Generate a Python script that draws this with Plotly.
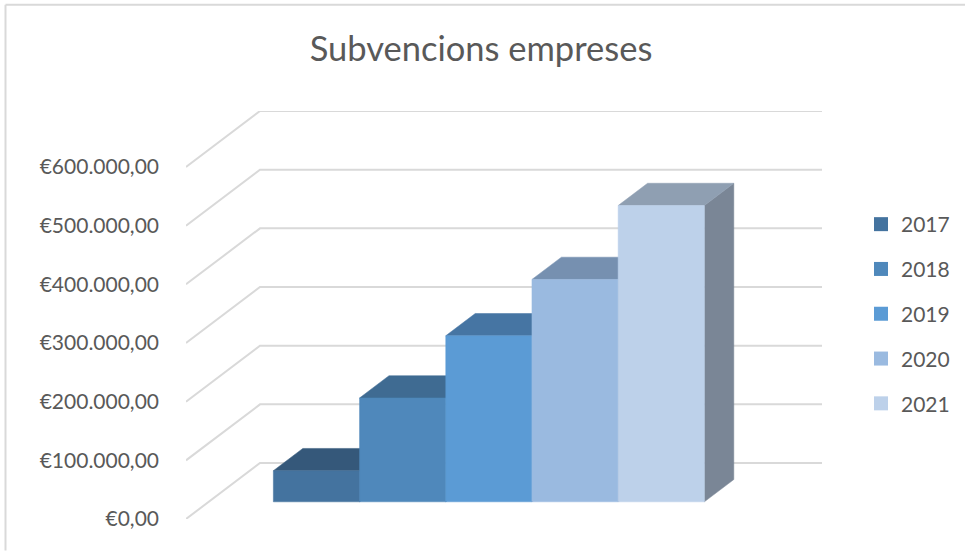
import plotly.graph_objects as go

# ---- data ----
years = ["2017", "2018", "2019", "2020", "2021"]
values = [53000, 177000, 283000, 379000, 505000]
tick_values = [0, 100000, 200000, 300000, 400000, 500000, 600000]
tick_labels = ["€0,00", "€100.000,00", "€200.000,00", "€300.000,00",
               "€400.000,00", "€500.000,00", "€600.000,00"]
title_text = "Subvencions empreses"

front_colors = ["#44739f", "#4f88bb", "#5b9bd5", "#9abae0", "#bdd1ea"]
top_colors = ["#35587a", "#3f6b92", "#4675a3", "#7690b0", "#8f9fb2"]
side_colors = ["#35587a", "#3f6b92", "#4675a3", "#6e7f95", "#7a8696"]
legend_colors = ["#44739f", "#4f88bb", "#5b9bd5", "#9abae0", "#bdd1ea"]

GREY = "#595959"
GRID = "#d9d9d9"

# ---- oblique projection of the 3-D box into the 2-D axes ----
W, H = 965, 551
M_L, M_R, M_T, M_B = 186, 143, 111.3, 31.5
PX_PER_BAR = 86.2
PX_PER_100K = 58.7
DEPTH_DX = 74 / PX_PER_BAR           # bar units for full depth
DEPTH_DY = 56 / PX_PER_100K * 100000  # value units for full depth
GAP_L, GAP_R = 0.75, 0.77
BAR_D0, BAR_D1 = 0.307, 0.705
X_MAX = len(years) + GAP_R
Y_MAX = 600000 + DEPTH_DY


def proj(x, v, d):
    return x + d * DEPTH_DX, v + d * DEPTH_DY


def face(points):
    xs, ys = zip(*[proj(*p) for p in points])
    return list(xs) + [xs[0]], list(ys) + [ys[0]]


fig = go.Figure()

# gridlines: side wall then back wall
for t in tick_values:
    xs, ys = zip(*[proj(-GAP_L, t, 0), proj(-GAP_L, t, 1), proj(X_MAX, t, 1)])
    fig.add_trace(go.Scatter(x=xs, y=ys, mode="lines", showlegend=False, hoverinfo="skip",
                             line=dict(color=GRID, width=2)))

# columns
for i, (yr, v) in enumerate(zip(years, values)):
    x0, x1 = float(i), float(i + 1)
    side = [(x1, 0, BAR_D0), (x1, 0, BAR_D1), (x1, v, BAR_D1), (x1, v, BAR_D0)]
    top = [(x0, v, BAR_D0), (x1, v, BAR_D0), (x1, v, BAR_D1), (x0, v, BAR_D1)]
    front = [(x0, 0, BAR_D0), (x1, 0, BAR_D0), (x1, v, BAR_D0), (x0, v, BAR_D0)]
    for pts, col in ((side, side_colors[i]), (top, top_colors[i]), (front, front_colors[i])):
        xs, ys = face(pts)
        fig.add_trace(go.Scatter(x=xs, y=ys, mode="lines", fill="toself", fillcolor=col,
                                 line=dict(color=col, width=0.5), showlegend=False,
                                 name=yr, hoverinfo="name"))

# legend entries
for yr, col in zip(years, legend_colors):
    fig.add_trace(go.Scatter(x=[None], y=[None], mode="markers", name=yr, legendgroup=yr,
                             marker=dict(symbol="square", size=14, color=col)))


def px_x(p):
    return (p - M_L) / (W - M_L - M_R)


def px_y(p):
    return (H - M_B - p) / (H - M_T - M_B)


frame = dict(type="line", xref="paper", yref="paper", layer="below",
             line=dict(color=GRID, width=2))

fig.update_layout(
    width=W, height=H, autosize=False,
    margin=dict(l=M_L, r=M_R, t=M_T, b=M_B, pad=0),
    paper_bgcolor="white", plot_bgcolor="rgba(0,0,0,0)",
    font=dict(family="Lato, Carlito, sans-serif", color=GREY),
    title=dict(text=title_text, x=481 / W, xanchor="center", y=1 - 49 / H, yanchor="middle",
               font=dict(size=34.5, color=GREY)),
    xaxis=dict(range=[-GAP_L, X_MAX + DEPTH_DX], visible=False, fixedrange=True),
    yaxis=dict(range=[0, Y_MAX], tickmode="array", tickvals=tick_values, ticktext=tick_labels,
               showgrid=False, zeroline=False,
               showline=False, ticks="", ticklabelstandoff=26,
               tickfont=dict(size=21, color=GREY), fixedrange=True),
    showlegend=True,
    legend=dict(xref="container", yref="container", x=861 / W, xanchor="left",
                y=1 - 204 / H, yanchor="top",
                font=dict(size=21, color=GREY), tracegroupgap=14.5,
                bgcolor="rgba(0,0,0,0)", traceorder="grouped"),
    shapes=[
        dict(frame, x0=px_x(5.5), x1=px_x(5.5), y0=px_y(551), y1=px_y(5)),
        dict(frame, x0=px_x(5.5), x1=px_x(965), y0=px_y(5), y1=px_y(5)),
    ],
)

fig.write_html("out.html", config={"displayModeBar": False},
               post_script="document.body.style.margin='0';"
                           "document.documentElement.style.overflow='hidden';")
